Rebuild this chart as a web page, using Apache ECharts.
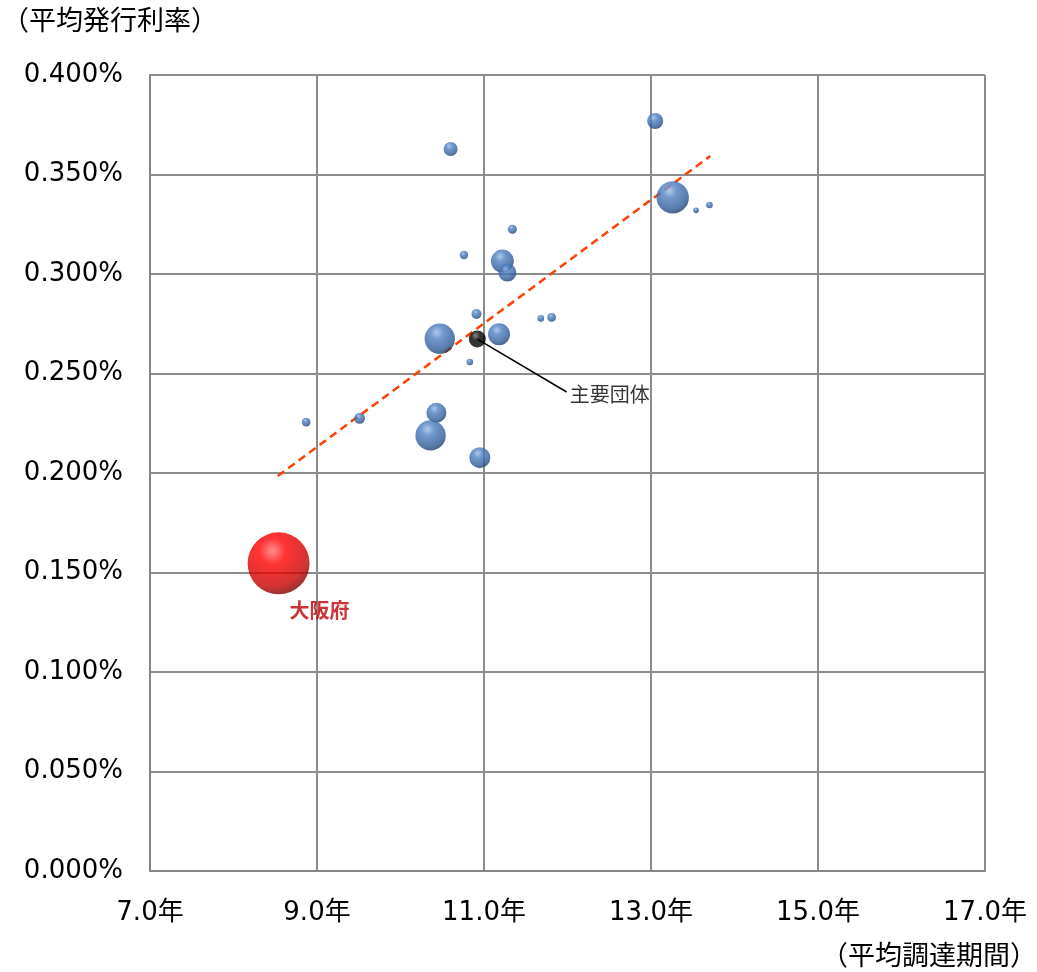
<!DOCTYPE html>
<html><head><meta charset="utf-8">
<script src="https://cdn.jsdelivr.net/npm/echarts@6/dist/echarts.min.js"></script>
<style>html,body{margin:0;padding:0;background:#fff;}#c{width:1037px;height:972px;}</style>
</head><body><div id="c"></div>
<script>
// Other municipalities: [average period (years), average rate (%), relative issuance volume]
const groupPeriod = [13.05, 10.60, 13.26, 13.54, 13.70, 11.34, 10.76, 11.22, 11.28, 10.91, 11.68, 11.81, 10.47, 11.18, 10.83, 8.87, 9.51, 10.43, 10.36, 10.95];
const groupRate   = [0.3769, 0.3628, 0.3385, 0.3320, 0.3347, 0.3225, 0.3095, 0.3065, 0.3007, 0.2799, 0.2777, 0.2782, 0.2675, 0.2697, 0.2558, 0.2256, 0.2275, 0.2303, 0.2189, 0.2077];
const groupVolume = [64, 49, 262, 8, 11, 20, 18, 132, 81, 25, 11, 19, 230, 121, 11, 19, 30, 100, 230, 110];
// Osaka Prefecture
const osakaPeriod = [8.54];
const osakaRate = [0.1546];
const osakaVolume = [961];
// Main-group average
const mainPeriod = [10.92];
const mainRate = [0.2673];
// Trend line endpoints
const trendPeriod = [8.53, 13.71];
const trendRate = [0.1985, 0.3593];
// Axis ticks
const xMin = 7, xMax = 17, xStep = 2;
const yMin = 0, yMax = 0.4, yStep = 0.05;

const FONT = 'DejaVu Sans, "Noto Sans CJK JP", sans-serif';
const JP = '"Noto Sans CJK JP", sans-serif';
const sizeOf = v => 2 * Math.sqrt(v);

const blueBall = {
  type: 'radial', x: 0.4, y: 0.3, r: 0.72,
  colorStops: [{offset: 0, color: '#9dbbe6'}, {offset: 0.3, color: '#4f80c2'}, {offset: 0.8, color: '#2e5a94'}, {offset: 1, color: '#1d3a63'}]
};
const redBall = {
  type: 'radial', x: 0.4, y: 0.3, r: 0.72,
  colorStops: [{offset: 0, color: '#ff7070'}, {offset: 0.3, color: '#ff0000'}, {offset: 0.8, color: '#c80000'}, {offset: 1, color: '#7a0000'}]
};
const blackBall = {
  type: 'radial', x: 0.4, y: 0.3, r: 0.72,
  colorStops: [{offset: 0, color: '#666'}, {offset: 0.35, color: '#000'}, {offset: 1, color: '#000'}]
};

const groupData = groupPeriod.map((p, i) => [p, groupRate[i], groupVolume[i]]);
const osakaData = osakaPeriod.map((p, i) => [p, osakaRate[i], osakaVolume[i]]);
const mainData = mainPeriod.map((p, i) => [p, mainRate[i]]);
const trendData = trendPeriod.map((p, i) => [p, trendRate[i]]);
const leaderData = [[mainPeriod[0], mainRate[0]], [11.99, 0.2407]];

const chart = echarts.init(document.getElementById('c'));
chart.setOption({
  animation: false,
  backgroundColor: '#fff',
  grid: {left: 150, right: 52, top: 75, bottom: 101},
  graphic: [
    {type: 'text', left: 2, top: 6, style: {text: '（平均発行利率）', font: '27px ' + JP, fill: '#000'}},
    {type: 'text', right: 0, top: 941, style: {text: '（平均調達期間）', font: '27px ' + JP, fill: '#000'}}
  ],
  xAxis: {
    type: 'value', min: xMin, max: xMax, interval: xStep,
    axisLine: {lineStyle: {color: '#868686', width: 2}},
    axisTick: {show: false},
    splitLine: {lineStyle: {color: '#8c8c8c', width: 2}},
    axisLabel: {margin: 29, color: '#000', fontSize: 26, fontFamily: FONT, formatter: v => v.toFixed(1) + '年'}
  },
  yAxis: {
    type: 'value', min: yMin, max: yMax, interval: yStep,
    axisLine: {show: true, lineStyle: {color: '#868686', width: 2}},
    axisTick: {show: false},
    splitLine: {lineStyle: {color: '#8c8c8c', width: 2}},
    axisLabel: {margin: 27, color: '#000', fontSize: 26, fontFamily: FONT, formatter: v => v.toFixed(3) + '%'}
  },
  series: [
    {
      type: 'line', data: trendData, symbol: 'none', silent: true, z: 3,
      lineStyle: {color: '#ff3f00', width: 2.5, type: [8, 5]}
    },
    {
      type: 'scatter', data: groupData, symbolSize: d => sizeOf(d[2]), z: 4,
      itemStyle: {color: blueBall}
    },
    {
      type: 'line', data: leaderData, symbol: 'none', z: 5,
      lineStyle: {color: '#000', width: 1.5}
    },
    {
      type: 'scatter', data: mainData, symbolSize: 17, z: 6,
      itemStyle: {color: blackBall}
    },
    {
      type: 'scatter', data: [leaderData[1]], symbolSize: 0, z: 6,
      label: {show: true, position: 'right', distance: 3, offset: [0, 2], formatter: '主要団体', color: '#000', fontSize: 20, fontFamily: JP}
    },
    {
      type: 'scatter', data: osakaData, symbolSize: d => sizeOf(d[2]), z: 7,
      itemStyle: {color: redBall},
      label: {show: true, position: 'bottom', distance: 5, offset: [41, 1], formatter: '大阪府', color: '#c00000', fontSize: 20, fontWeight: 'bold', fontFamily: JP}
    }
  ]
});
</script></body></html>
